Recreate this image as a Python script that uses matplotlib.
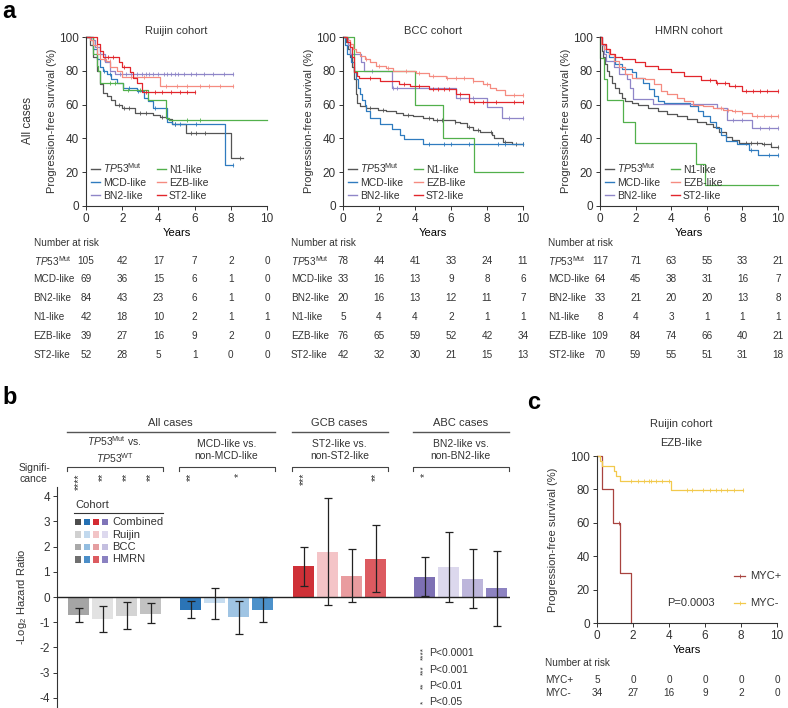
import matplotlib
matplotlib.use("Agg")
import matplotlib.pyplot as plt
import numpy as np
from matplotlib.lines import Line2D
from matplotlib.patches import Rectangle
from matplotlib.transforms import blended_transform_factory

plt.rcParams["font.family"] = ["Liberation Sans", "DejaVu Sans"]
plt.rcParams["mathtext.fontset"] = "custom"
plt.rcParams["mathtext.rm"] = "Liberation Sans"
plt.rcParams["mathtext.it"] = "Liberation Sans:italic"
plt.rcParams["font.size"] = 7.5
plt.rcParams["axes.unicode_minus"] = False
plt.rcParams["text.color"] = "#333333"
plt.rcParams["axes.edgecolor"] = "#333333"
plt.rcParams["xtick.color"] = "#333333"
plt.rcParams["ytick.color"] = "#333333"

# ---- panel a data -------------------------------------------------------
cohort_names = ["Ruijin cohort", "BCC cohort", "HMRN cohort"]
subtype_labels = [r"$\mathit{TP53}^{\mathrm{Mut}}$", "MCD-like", "BN2-like",
                  "N1-like", "EZB-like", "ST2-like"]
subtype_colors = ["#555555", "#2f7bbf", "#8f86c8", "#52b04c", "#f58b80", "#e2262c"]
year_ticks = [0, 2, 4, 6, 8, 10]

ruijin_t = [
    [0, 0.2, 0.4, 0.6, 0.77, 0.96, 1.15, 1.4, 1.6, 2.0, 2.7, 3.7, 4.1, 4.5, 4.75, 5.5, 8.0, 8.7],
    [0, 0.4, 0.6, 0.77, 0.96, 1.15, 1.4, 1.7, 2.07, 2.8, 3.2, 3.45, 3.7, 4.46, 4.75, 7.7, 8.1],
    [0, 0.3, 0.5, 0.77, 1.05, 1.33, 1.6, 8.1],
    [0, 0.4, 0.6, 0.68, 0.8, 2.07, 3.4, 4.43, 4.6, 10],
    [0, 0.2, 0.4, 0.6, 0.8, 1.1, 1.35, 1.7, 2.0, 4.1, 8.1],
    [0, 0.6, 0.77, 0.96, 1.8, 2.0, 2.45, 2.6, 2.8, 3.1, 6.0],
]
ruijin_s = [
    [100, 95, 88, 80, 72, 67, 65, 63, 60, 58, 55.3, 54, 52.5, 51.5, 48.5, 43, 28.5, 28.5],
    [100, 93, 87, 82, 80, 78, 75, 73, 70, 68, 64, 62, 58, 50, 48.5, 24.5, 24.5],
    [100, 98, 94, 90, 85, 80, 78.3, 78.3],
    [100, 90, 83, 80, 72.7, 68.5, 63, 52, 51, 51],
    [100, 98, 95, 90, 87, 86, 82, 80, 76.3, 71, 71],
    [100, 96, 92, 88, 85, 82, 79, 76, 73, 67.5, 67.5],
]
ruijin_cens = [
    [1.8, 2.1, 2.4, 3.0, 3.3, 4.2, 4.9, 5.8, 6.1, 6.6, 8.5],
    [1.0, 1.3, 2.4, 2.9, 3.8, 4.9, 5.2, 6.1, 8.1],
    [1.9, 2.2, 2.5, 2.8, 3.1, 3.3, 3.5, 3.7, 4.0, 4.3, 4.5, 4.7, 4.9, 5.1, 5.4, 5.8, 6.1, 6.5, 7.0, 7.6, 8.1],
    [1.3, 1.6, 2.3, 3.0, 5.6, 6.3],
    [1.0, 1.3, 2.5, 3.2, 4.4, 5.0, 5.6, 6.3, 6.8, 7.4, 8.1],
    [1.2, 1.5, 2.1, 3.3, 3.8, 4.2, 4.7, 5.2, 5.6, 6.0],
]
ruijin_risk = [[105, 42, 17, 7, 2, 0], [69, 36, 15, 6, 1, 0], [84, 43, 23, 6, 1, 0],
               [42, 18, 10, 2, 1, 1], [39, 27, 16, 9, 2, 0], [52, 28, 5, 1, 0, 0]]

bcc_t = [
    [0, 0.15, 0.28, 0.4, 0.52, 0.6, 0.7, 0.78, 0.93, 1.3, 1.95, 2.4, 2.96, 3.33, 3.9, 4.44,
     5.0, 6.2, 6.5, 6.9, 7.2, 7.6, 8.3, 8.4, 8.9, 9.4, 10],
    [0, 0.1, 0.22, 0.46, 0.6, 0.7, 0.83, 0.93, 1.07, 1.2, 1.3, 1.5, 2.04, 2.7, 3.15, 3.4, 4.44, 10],
    [0, 0.28, 0.37, 1.0, 1.17, 2.7, 6.26, 8.0, 8.85, 10],
    [0, 0.6, 4.0, 5.55, 7.3, 10],
    [0, 0.2, 0.37, 0.55, 0.74, 0.93, 1.2, 1.5, 1.85, 2.4, 2.8, 4.07, 4.8, 5.74, 7.2, 7.8,
     8.15, 8.5, 8.98, 10],
    [0, 0.2, 0.37, 0.52, 0.6, 0.78, 0.9, 2.04, 3.1, 3.7, 4.8, 6.3, 7.0, 10],
]
bcc_s = [
    [100, 97, 93, 88, 82, 75, 66, 61, 59, 58, 57, 56, 55, 54, 53, 52, 51, 50, 49, 47, 45, 44,
     42, 40, 38, 36.5, 36.5],
    [100, 95, 90, 85, 79, 75, 70, 66, 63, 60, 56, 52, 48.5, 45.5, 42, 39.5, 36.5, 36.5],
    [100, 95, 90, 85, 80, 70, 64, 58.5, 52, 52],
    [100, 80, 60, 40, 20, 20],
    [100, 98, 96, 93, 91, 89, 87, 85, 83, 81.5, 80, 78.5, 77, 75.5, 74, 72, 70, 68.5, 65.5, 65.5],
    [100, 97, 94, 88, 79, 77, 76, 74, 72, 71, 69, 66.5, 61.5, 61.5],
]
bcc_cens = [
    [1.5, 2.2, 3.6, 4.8, 5.2, 5.5, 6.2, 7.0, 7.5, 8.2, 9.0, 9.6, 10],
    [4.8, 5.6, 6.0, 7.0, 8.6, 9.0, 10],
    [1.6, 2.8, 3.0, 6.5, 7.2, 9.2, 10],
    [],
    [1.3, 2.0, 2.5, 3.5, 4.2, 5.0, 5.8, 6.3, 6.7, 7.2, 8.0, 9.5, 10],
    [1.5, 3.4, 4.2, 5.0, 5.3, 5.6, 5.9, 6.5, 7.3, 7.8, 8.5, 9.5, 10],
]
bcc_risk = [[78, 44, 41, 33, 24, 11], [33, 16, 13, 9, 8, 6], [20, 16, 13, 12, 11, 7],
            [5, 4, 4, 2, 1, 1], [76, 65, 59, 52, 42, 34], [42, 32, 30, 21, 15, 13]]

hmrn_t = [
    [0, 0.04, 0.1, 0.16, 0.27, 0.38, 0.5, 0.68, 0.86, 1.04, 1.22, 1.4, 1.77, 2.14, 2.69, 3.24,
     3.78, 4.33, 4.88, 5.43, 5.98, 6.34, 6.7, 7.07, 7.44, 7.8, 9.09, 9.63, 10],
    [0, 0.13, 0.31, 0.5, 0.86, 1.22, 1.77, 2.05, 2.4, 2.78, 3.05, 3.24, 3.6, 5.06, 5.5, 5.8,
     6.16, 6.53, 6.8, 7.07, 7.71, 8.35, 8.9, 10],
    [0, 0.1, 0.22, 0.35, 0.77, 1.04, 1.5, 1.68, 1.86, 2.96, 6.6, 7.13, 8.54, 10],
    [0, 0.02, 0.2, 0.4, 1.28, 1.99, 5.37, 5.9, 10],
    [0, 0.07, 0.22, 0.5, 0.77, 1.04, 1.4, 1.77, 2.5, 3.05, 3.42, 3.78, 4.33, 4.7, 5.25, 5.8,
     6.34, 6.89, 7.44, 8.0, 8.54, 10],
    [0, 0.13, 0.31, 0.58, 0.86, 1.22, 1.96, 2.5, 3.24, 3.97, 4.7, 5.7, 6.53, 7.26, 8.0, 10],
]
hmrn_s = [
    [100, 96, 92, 88, 84, 80, 77, 73, 70, 67, 64, 62, 61, 59.5, 58, 56, 54.5, 53, 51.5, 50,
     48.5, 46.5, 44, 41, 39, 37.5, 36.5, 35, 35],
    [100, 95, 91, 88, 84, 81, 79, 76, 73, 69, 65, 62, 61, 59, 56, 53, 50, 46, 42, 38.5, 36.5,
     33, 30, 30],
    [100, 95, 90, 86, 82, 78, 75, 70, 63.5, 60.5, 58, 51, 46, 46],
    [100, 87.5, 75, 62.5, 50, 37.5, 25, 12.5, 12.5],
    [100, 96, 93, 90, 86, 82, 78, 76, 75, 72, 68, 66, 64, 62, 60, 59, 58, 57, 56, 55, 53, 53],
    [100, 96, 93, 90, 88, 87, 85, 83, 81, 79, 77, 74.5, 73, 71, 68, 68],
]
hmrn_cens = [
    [8.2, 8.5, 8.8, 9.2, 9.6, 10],
    [8.5, 9.5, 10],
    [7.5, 8.0, 9.0, 9.5, 10],
    [],
    [6.8, 7.2, 7.6, 8.0, 8.8, 9.2, 9.6, 10],
    [6.2, 6.6, 7.0, 7.6, 8.2, 8.6, 9.0, 9.4, 10],
]
hmrn_risk = [[117, 71, 63, 55, 33, 21], [64, 45, 38, 31, 16, 7], [33, 21, 20, 20, 13, 8],
             [8, 4, 3, 1, 1, 1], [109, 84, 74, 66, 40, 21], [70, 59, 55, 51, 31, 18]]

# ---- panel b data -------------------------------------------------------
group_titles = ["All cases", "GCB cases", "ABC cases"]
comparisons = [r"$\mathit{TP53}^{\mathrm{Mut}}$ vs." + "\n" + r"$\mathit{TP53}^{\mathrm{WT}}$",
               "MCD-like vs.\nnon-MCD-like", "ST2-like vs.\nnon-ST2-like",
               "BN2-like vs.\nnon-BN2-like"]
cohort_legend = ["Combined", "Ruijin", "BCC", "HMRN"]
hr_val = [-0.73, -0.88, -0.75, -0.67, -0.52, -0.25, -0.81, -0.51,
          1.21, 1.80, 0.85, 1.52, 0.81, 1.17, 0.73, 0.35]
hr_lo = [-1.01, -1.40, -1.28, -1.05, -0.84, -0.87, -1.48, -0.99,
         0.43, -0.33, -0.21, 0.19, 0.04, -0.19, -0.44, -1.16]
hr_hi = [-0.45, -0.35, -0.21, -0.25, -0.17, 0.36, -0.15, -0.01,
         1.99, 3.91, 1.92, 2.87, 1.59, 2.56, 1.92, 1.84]
hr_sig = ["****", "**", "**", "**", "**", "", "*", "",
          "***", "", "", "**", "*", "", "", ""]
bar_colors = [["#a5a5a5", "#e2e2e2", "#d4d4d4", "#c2c2c2"],
              ["#2b74b6", "#c7ddf0", "#9fc4e3", "#4c91ca"],
              ["#cf3037", "#f4c4c7", "#e99c9f", "#dc5a60"],
              ["#7d70b4", "#dcd8ed", "#bdb6db", "#8d83c1"]]
legend_colors = [["#4d4d4d", "#2470b3", "#d42a32", "#7f74b8"],
                 ["#d0d0d0", "#c2d9ee", "#f2c4c6", "#ddd9ee"],
                 ["#a9a9a9", "#93bde0", "#e59ea0", "#c4bfe0"],
                 ["#6f6f6f", "#4b8ec8", "#dc5b60", "#8a81c1"]]
p_labels = ["P<0.0001", "P<0.001", "P<0.01", "P<0.05"]

# ---- panel c data -------------------------------------------------------
myc_labels = ["MYC+", "MYC-"]
myc_colors = ["#a8433f", "#f2c94c"]
myc_t = [[0, 0.28, 0.88, 1.29, 1.9],
         [0, 0.15, 0.3, 0.96, 1.07, 1.29, 4.1, 8.1]]
myc_s = [[100, 80, 60, 30, 0],
         [100, 97.1, 94.1, 91.2, 88.2, 85.3, 79.5, 79.5]]
myc_cens = [[1.2],
            [1.9, 2.3, 2.6, 2.9, 3.0, 3.3, 3.6, 4.0, 5.0, 5.3, 5.9, 6.3, 6.6, 6.9, 7.2, 7.6, 8.1]]
myc_risk = [[5, 0, 0, 0, 0, 0], [34, 27, 16, 9, 2, 0]]

W, H = 788, 708
fig = plt.figure(figsize=(W / 100, H / 100), dpi=100)


def add_ax(x, y, w, h):
    return fig.add_axes([x / W, 1 - (y + h) / H, w / W, h / H])


def fx(px):
    return px / W


def fy(py):
    return 1 - py / H


def km(ax, t, s, cens, color):
    ax.step(t, s, where="post", color=color, lw=0.9, clip_on=False)
    if len(cens):
        idx = np.searchsorted(t, cens, side="right") - 1
        ax.plot(cens, np.array(s)[idx], ls="none", marker="|", ms=3, mew=0.6,
                color=color, clip_on=False)


def style_km(ax):
    for sp in ["top", "right"]:
        ax.spines[sp].set_visible(False)
    ax.spines["left"].set_linewidth(0.8)
    ax.spines["bottom"].set_linewidth(0.8)
    ax.set_xlim(0, 10)
    ax.set_ylim(0, 100)
    ax.set_xticks(year_ticks)
    ax.set_yticks([0, 20, 40, 60, 80, 100])
    ax.tick_params(labelsize=8.5, length=3, width=0.7, pad=2)


def risk_rows(ax, row_labels, rows, y_head, y_rows):
    tr = blended_transform_factory(ax.transData, fig.transFigure)
    ax.text(-2.9, fy(y_head), "Number at risk", transform=tr, ha="left", va="center", fontsize=7.2)
    for lab, vals, yy in zip(row_labels, rows, y_rows):
        ax.text(-2.9, fy(yy), lab, transform=tr, ha="left", va="center", fontsize=7.2)
        for xt, v in zip(year_ticks, vals):
            ax.text(xt, fy(yy), str(v), transform=tr, ha="center", va="center", fontsize=7.2)


# ---- panel a -------------------------------------------------------------
fig.text(fx(2), fy(11), "a", fontsize=17, fontweight="bold", ha="left", va="center", color="black")
fig.text(fx(28), fy(121), "All cases", rotation=90, ha="center", va="center", fontsize=8.5)

km_boxes = [(86, 37, 181, 169), (343, 37, 180, 169), (600, 37, 178, 169)]
ylab_x = [52, 309, 566]
all_t = [ruijin_t, bcc_t, hmrn_t]
all_s = [ruijin_s, bcc_s, hmrn_s]
all_c = [ruijin_cens, bcc_cens, hmrn_cens]
all_r = [ruijin_risk, bcc_risk, hmrn_risk]
risk_y = [261, 279, 298, 317, 336, 355]

for k in range(3):
    ax = add_ax(*km_boxes[k])
    style_km(ax)
    for i in range(6):
        km(ax, all_t[k][i], all_s[k][i], all_c[k][i], subtype_colors[i])
    ax.set_title(cohort_names[k], fontsize=8, pad=2)
    ax.set_xlabel("Years", fontsize=8, labelpad=2)
    fig.text(fx(ylab_x[k]), fy(121), "Progression-free survival (%)", rotation=90,
             ha="center", va="center", fontsize=8)
    handles = [Line2D([], [], color=c, lw=1) for c in subtype_colors]
    ax.legend(handles, subtype_labels, loc="lower left", ncol=2, frameon=False,
              fontsize=7.5, handlelength=0.8, handletextpad=0.3, columnspacing=1.1,
              labelspacing=0.3, borderpad=0.2, borderaxespad=0.3)
    risk_rows(ax, subtype_labels, all_r[k], 243, risk_y)

# ---- panel b -------------------------------------------------------------
fig.text(fx(2), fy(398), "b", fontsize=17, fontweight="bold", ha="left", va="center", color="black")
group_start = [0, 4.67, 9.38, 14.42]
axb = add_ax(57, 487, 453, 220)
xpos, cols = [], []
for g in range(4):
    for j in range(4):
        xpos.append(group_start[g] + j)
        cols.append(bar_colors[g][j])
vals = np.array(hr_val)
err = [vals - np.array(hr_lo), np.array(hr_hi) - vals]
axb.bar(xpos, vals, width=0.9, color=cols, zorder=2)
axb.errorbar(xpos, vals, yerr=err, fmt="none", ecolor="#222222", elinewidth=0.9,
             capsize=3, capthick=0.9, zorder=3)
axb.axhline(0, color="#222222", lw=1, zorder=4)
axb.set_xlim(-0.9, 17.98)
axb.set_ylim(-4.36, 4.36)
axb.set_yticks([-4, -3, -2, -1, 0, 1, 2, 3, 4])
axb.set_xticks([])
for sp in ["top", "right", "bottom"]:
    axb.spines[sp].set_visible(False)
axb.spines["left"].set_linewidth(0.8)
axb.tick_params(labelsize=8.5, length=3, width=0.7, pad=2)
fig.text(fx(22), fy(597), r"-Log$_2$ Hazard Ratio", rotation=90, ha="center", va="center", fontsize=8)

trb = blended_transform_factory(axb.transData, fig.transFigure)
# group headers
header_span = [(0, 1), (2, 2), (3, 3)]
for title, (g0, g1) in zip(group_titles, header_span):
    x0 = group_start[g0] - 0.5
    x1 = group_start[g1] + 3.5
    axb.add_line(Line2D([x0, x1], [fy(432), fy(432)], transform=trb, color="#555555",
                        lw=1, clip_on=False))
    axb.text((x0 + x1) / 2, fy(423), title, transform=trb, ha="center", va="center", fontsize=8)
for g in range(4):
    x0 = group_start[g] - 0.5
    x1 = group_start[g] + 3.5
    axb.text((x0 + x1) / 2, fy(449.5), comparisons[g], transform=trb, ha="center",
             va="center", fontsize=7.5, linespacing=1.25)
    axb.add_line(Line2D([x0, x0, x1, x1], [fy(471), fy(467), fy(467), fy(471)], transform=trb,
                        color="#444444", lw=0.8, clip_on=False))
fig.text(fx(19), fy(473.5), "Signifi-\ncance", ha="left", va="center", fontsize=7.5,
         linespacing=1.1)
for x, s in zip(xpos, hr_sig):
    if s:
        axb.text(x, fy(473), s, transform=trb, rotation=90, ha="center", va="top",
                 fontsize=7.5, color="#333333")

# cohort legend
fig.text(fx(75), fy(505), "Cohort", ha="left", va="center", fontsize=8)
fig.add_artist(Line2D([fx(74), fx(163)], [fy(513), fy(513)], transform=fig.transFigure,
                      color="#333333", lw=0.8))
sw_x = [75, 84, 93, 102]
sw_y = [522, 534.5, 547, 559.5]
for r in range(4):
    for c in range(4):
        fig.add_artist(Rectangle((fx(sw_x[c]), fy(sw_y[r] + 3.2)), 6.4 / W, 6.4 / H,
                                 transform=fig.transFigure, color=legend_colors[r][c], lw=0))
    fig.text(fx(112), fy(sw_y[r]), cohort_legend[r], ha="left", va="center", fontsize=8)

# p-value key
p_y = [653, 670, 686, 702]
for n, (lab, yy) in enumerate(zip(p_labels, p_y)):
    fig.text(fx(427), fy(yy), "*" * (4 - n), rotation=90, ha="right", va="center",
             fontsize=6, color="#333333")
    fig.text(fx(429), fy(yy), lab, ha="left", va="center", fontsize=7.5)

# ---- panel c -------------------------------------------------------------
fig.text(fx(527), fy(402), "c", fontsize=17, fontweight="bold", ha="left", va="center", color="black")
axc = add_ax(597, 456, 180, 167)
style_km(axc)
for i in range(2):
    km(axc, myc_t[i], myc_s[i], myc_cens[i], myc_colors[i])
axc.set_xlabel("Years", fontsize=8, labelpad=2)
fig.text(fx(681), fy(424), "Ruijin cohort", ha="center", va="center", fontsize=8)
fig.text(fx(681), fy(443), "EZB-like", ha="center", va="center", fontsize=8)
fig.text(fx(553), fy(540), "Progression-free survival (%)", rotation=90, ha="center",
         va="center", fontsize=8)
risk_rows(axc, myc_labels, myc_risk, 663, [680, 693])
leg_y = [576, 603]
for lab, col, yy in zip(myc_labels, myc_colors, leg_y):
    fig.add_artist(Line2D([fx(734), fx(745)], [fy(yy), fy(yy)], transform=fig.transFigure,
                          color=col, lw=0.9))
    fig.add_artist(Line2D([fx(739.5)], [fy(yy)], transform=fig.transFigure, color=col,
                          marker="|", ms=3, mew=0.6, ls="none"))
    fig.text(fx(750), fy(yy), lab, ha="left", va="center", fontsize=8)
fig.text(fx(667), fy(603), "P=0.0003", ha="left", va="center", fontsize=8)

fig.savefig("out.png", dpi=100)
